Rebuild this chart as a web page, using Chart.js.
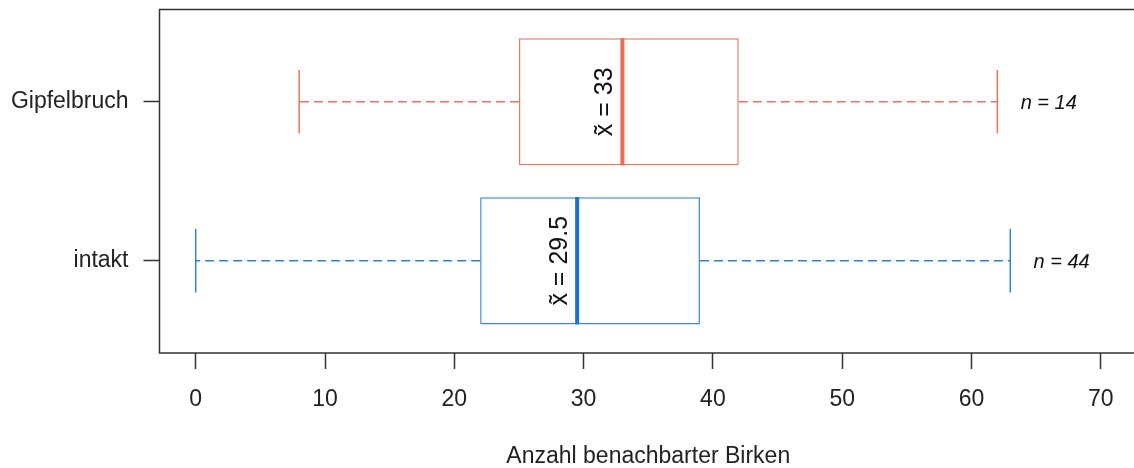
<!DOCTYPE html>
<html>
<head>
<meta charset="utf-8">
<script src="https://cdn.jsdelivr.net/npm/chart.js@4.4.0/dist/chart.umd.min.js"></script>
<style>
  html, body { margin: 0; padding: 0; background: #fff; overflow: hidden; }
  #wrap { width: 1138px; height: 468px; }
</style>
</head>
<body>
<div id="wrap"><canvas id="boxChart" width="1138" height="468"></canvas></div>
<script>
"use strict";
// box plot values (bottom to top)
const groups = ["intakt", "Gipfelbruch"];
const lowWhisker = [0, 8];
const lowerQuartile = [22, 25];
const medians = [29.5, 33];
const upperQuartile = [39, 42];
const highWhisker = [63, 62];
const counts = [44, 14];
const xTicks = [0, 10, 20, 30, 40, 50, 60, 70];

const boxColors = ["#3c89de", "#f27662"];
const lineColors = ["#2f80d8", "#f2705c"];
const medianColors = ["#1a73d2", "#ee6a54"];
const fontFamily = "'Liberation Sans', Arial, sans-serif";

//whiskers, caps, medians and the text labels
const boxExtras = {
  id: "boxExtras",
  afterDatasetsDraw(chart) {
    const ctx = chart.ctx;
    const xs = chart.scales.x;
    const ys = chart.scales.y;
    ctx.save();
    groups.forEach((g, i) => {
      const yc = ys.getPixelForValue(i + 1);
      const capTop = ys.getPixelForValue(i + 1.2);
      const capBot = ys.getPixelForValue(i + 0.8);
      const boxTop = ys.getPixelForValue(i + 1.4);
      const boxBot = ys.getPixelForValue(i + 0.6);
      const xMin = xs.getPixelForValue(lowWhisker[i]);
      const xQ1 = xs.getPixelForValue(lowerQuartile[i]);
      const xMed = xs.getPixelForValue(medians[i]);
      const xQ3 = xs.getPixelForValue(upperQuartile[i]);
      const xMax = xs.getPixelForValue(highWhisker[i]);

      // dashed whiskers
      ctx.strokeStyle = lineColors[i];
      ctx.lineWidth = 1.5;
      ctx.setLineDash([9, 5]);
      ctx.beginPath();
      ctx.moveTo(xQ1, yc);
      ctx.lineTo(xMin, yc);
      ctx.moveTo(xQ3, yc);
      ctx.lineTo(xMax, yc);
      ctx.stroke();

      // caps
      ctx.setLineDash([]);
      ctx.beginPath();
      ctx.moveTo(xMin, capTop);
      ctx.lineTo(xMin, capBot);
      ctx.moveTo(xMax, capTop);
      ctx.lineTo(xMax, capBot);
      ctx.stroke();

      // median
      ctx.strokeStyle = medianColors[i];
      ctx.lineWidth = 4;
      ctx.beginPath();
      ctx.moveTo(xMed, boxTop);
      ctx.lineTo(xMed, boxBot);
      ctx.stroke();

      // median label, rotated
      ctx.save();
      ctx.translate(xMed - 10, yc);
      ctx.rotate(-Math.PI / 2);
      ctx.fillStyle = "#111";
      ctx.font = "25px " + fontFamily;
      ctx.textAlign = "center";
      ctx.textBaseline = "alphabetic";
      ctx.fillText("x\u0303 = " + medians[i], 0, 0);
      ctx.restore();

      // sample size
      ctx.fillStyle = "#111";
      ctx.font = "italic 20px " + fontFamily;
      ctx.textAlign = "left";
      ctx.textBaseline = "middle";
      ctx.fillText("n = " + counts[i], xs.getPixelForValue(highWhisker[i] + 1.8), yc + 2);
    });

    // frame
    const a = chart.chartArea;
    ctx.strokeStyle = "#333";
    ctx.lineWidth = 1.5;
    ctx.strokeRect(a.left, a.top, a.right - a.left, a.bottom - a.top);
    ctx.restore();
  },
};

const ctx = document.getElementById("boxChart");
new Chart(ctx, {
  type: "bar",
  data: {
    labels: groups,
    datasets: [
      {
        data: groups.map((g, i) => ({
          x: [lowerQuartile[i], upperQuartile[i]],
          y: i + 1,
        })),
        backgroundColor: "#ffffff",
        borderColor: boxColors,
        borderWidth: 1.5,
        borderSkipped: false,
        barPercentage: 0.8,
        categoryPercentage: 1,
      },
    ],
  },
  options: {
    indexAxis: "y",
    responsive: false,
    animation: false,
    layout: { padding: { top: 9.5, right: 1, left: 0, bottom: 0 } },
    plugins: { legend: { display: false }, tooltip: { enabled: false } },
    scales: {
      x: {
        type: "linear",
        min: -2.8,
        max: 72.8,
        afterBuildTicks: (s) => {
          s.ticks = xTicks.map((v) => ({ value: v }));
        },
        afterFit: (s) => {
          s.height = 115;
          s.paddingLeft = 0;
          s.paddingRight = 0;
        },
        grid: {
          drawOnChartArea: false,
          drawTicks: true,
          tickLength: 16,
          tickColor: "#333",
          tickWidth: 1.5,
        },
        border: { display: false },
        ticks: {
          font: { family: fontFamily, size: 23 },
          color: "#222",
          padding: 17,
          maxRotation: 0,
          autoSkip: false,
        },
        title: {
          display: true,
          text: "Anzahl benachbarter Birken",
          font: { family: fontFamily, size: 23, lineHeight: 1 },
          color: "#222",
          padding: 0,
        },
      },
      y: {
        type: "linear",
        min: 0.42,
        max: 2.58,
        offset: false,
        afterBuildTicks: (s) => {
          s.ticks = groups.map((g, i) => ({ value: i + 1 }));
        },
        afterFit: (s) => {
          s.width = 159.5;
          s.paddingTop = 0;
          s.paddingBottom = 0;
        },
        grid: {
          offset: false,
          drawOnChartArea: false,
          drawTicks: true,
          tickLength: 16,
          tickColor: "#333",
          tickWidth: 1.5,
        },
        border: { display: false },
        ticks: {
          font: { family: fontFamily, size: 23 },
          color: "#222",
          padding: 15,
          autoSkip: false,
          callback: (v) => groups[Math.round(v) - 1] || "",
        },
      },
    },
  },
  plugins: [boxExtras],
});
</script>
</body>
</html>
